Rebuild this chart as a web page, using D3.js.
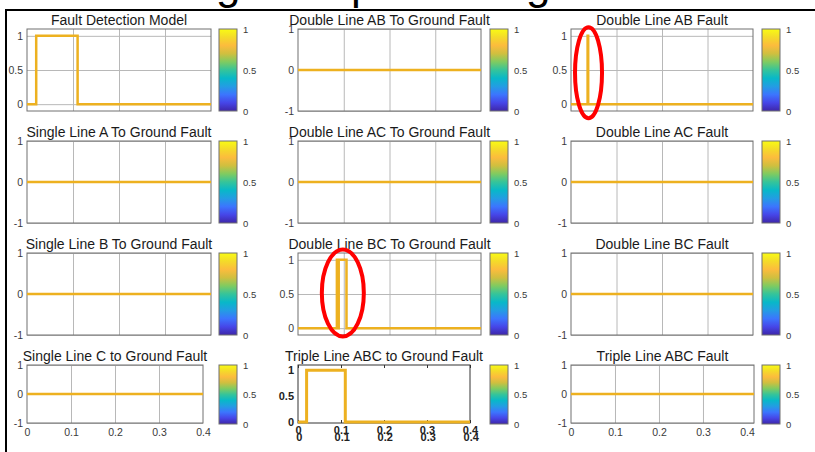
<!DOCTYPE html>
<html>
<head>
<meta charset="utf-8">
<script src="https://cdn.jsdelivr.net/npm/d3@7"></script>
<style>
  body { margin: 0; background: #fff; }
  svg { display: block; font-family: 'Liberation Sans', Arial, sans-serif; }
  .title { font-size: 14px; fill: #1a1a1a; text-anchor: middle; }
  .tick text { font-size: 10.5px; fill: #3a3a3a; }
  .grid line { stroke: #b8b8b8; }
  .bold .tick text { font-weight: bold; fill: #222; font-size: 11px; }
</style>
</head>
<body>
<svg width="815" height="452"></svg>
<script>
// panel titles, row by row
const titles = [
  'Fault Detection Model', 'Double Line AB To Ground Fault', 'Double Line AB Fault',
  'Single Line A To Ground Fault', 'Double Line AC To Ground Fault', 'Double Line AC Fault',
  'Single Line B To Ground Fault', 'Double Line BC To Ground Fault', 'Double Line BC Fault',
  'Single Line C to Ground Fault', 'Triple Line ABC to Ground Fault', 'Triple Line ABC Fault'
];

const xTicks = [0, 0.1, 0.2, 0.3, 0.4];
const xGrid = [0.1, 0.2, 0.3];
const barTicks = [0, 0.5, 1];

// step signals: breakpoints (s) and the value held after each one
const detectTime = [0, 0.02, 0.11, 0.4];
const detectValue = [0, 1, 0, 0];
const abFaultTime = [0, 0.0365, 0.0378, 0.4];
const abFaultValue = [0, 1, 0, 0];
const bcGroundTime = [0, 0.085, 0.087, 0.089, 0.106, 0.4];
const bcGroundValue = [0, 1, 0, 1, 0, 0];
const abcGroundTime = [0, 0.02, 0.11, 0.4];
const abcGroundValue = [0, 1, 0, 0];
const zeroTime = [0, 0.4];
const zeroValue = [0, 0];
const abcFaultTime = [0, 0.416];
const abcFaultValue = [0, 0];

const signalTime = [
  detectTime, zeroTime, abFaultTime,
  zeroTime, zeroTime, zeroTime,
  zeroTime, bcGroundTime, zeroTime,
  zeroTime, abcGroundTime, abcFaultTime
];
const signalValue = [
  detectValue, zeroValue, abFaultValue,
  zeroValue, zeroValue, zeroValue,
  zeroValue, bcGroundValue, zeroValue,
  zeroValue, abcGroundValue, abcFaultValue
];

const xMax = [0.4, 0.4, 0.4, 0.4, 0.4, 0.4, 0.4, 0.4, 0.4, 0.4, 0.4, 0.416];
const yDomains = [
  [-0.1, 1.1], [-1, 1], [-0.1, 1.1],
  [-1, 1], [-1, 1], [-1, 1],
  [-1, 1], [-0.1, 1.1], [-1, 1],
  [-1, 1], [-0.02, 1.1], [-1, 1]
];

// red marks drawn on the figure (panel, time, value)
const marks = [
  { panel: 2, t: 0.0385, v: 0.46 },
  { panel: 7, t: 0.098, v: 0.515 }
];
const markSize = [[13.5, 45.5], [21, 43.5]];

const parulaStops = ['#3e26a8', '#4646e8', '#3c75fe', '#239de3', '#08b8c8',
  '#35c49a', '#80cb60', '#d0bf3f', '#fcbc3d', '#f4db29', '#f9fb14'];

const svg = d3.select('svg');

// grid layout
const colLeft = [27, 298, 571];
const colWidth = [184, 183, 182];
const lastRowWidth = [176, 172, 183];
const rowTop = [29, 141, 253, 365];
const rowHeight = [82, 82, 82, 58];
const barLeft = [219, 490, 762];
const barWidth = 18;
const orange = '#edb120';
const fmt = d => String(d);

const grad = svg.append('defs').append('linearGradient')
  .attr('id', 'parula')
  .attr('x1', 0).attr('y1', 1).attr('x2', 0).attr('y2', 0);
grad.selectAll('stop')
  .data(parulaStops)
  .join('stop')
  .attr('offset', (d, i) => i / (parulaStops.length - 1))
  .attr('stop-color', d => d);

const scales = [];

titles.forEach((title, i) => {
  const col = i % 3;
  const row = Math.floor(i / 3);
  const left = colLeft[col];
  const top = rowTop[row];
  const w = row === 3 ? lastRowWidth[col] : colWidth[col];
  const h = rowHeight[row];
  const special = i === 10;
  const yTicks = yDomains[i][0] === -1 ? [-1, 0, 1] : [0, 0.5, 1];

  const xScale = d3.scaleLinear().domain([0, xMax[i]]).range([0, w]);
  const yScale = d3.scaleLinear().domain(yDomains[i]).range([h, 0]);
  scales.push({ xScale, yScale, left, top });

  const g = svg.append('g')
    .attr('transform', `translate(${left},${top})`);

  g.append('rect').attr('width', w).attr('height', h).attr('fill', '#fff');

  if (!special) {
    g.append('g')
      .attr('class', 'grid')
      .attr('transform', `translate(0,${h})`)
      .call(d3.axisBottom(xScale).tickValues(xGrid).tickSize(-h).tickFormat(''))
      .call(a => a.select('.domain').remove());
    g.append('g')
      .attr('class', 'grid')
      .call(d3.axisLeft(yScale).tickValues(yTicks).tickSize(-w).tickFormat(''))
      .call(a => a.select('.domain').remove());
  } else {
    // this one has only small inward ticks
    g.append('g')
      .attr('transform', `translate(0,${h})`)
      .call(d3.axisBottom(xScale).tickValues(xTicks).tickSize(-3).tickFormat(''))
      .call(a => a.select('.domain').remove())
      .selectAll('line').attr('stroke', '#333');
    g.append('g')
      .call(d3.axisTop(xScale).tickValues(xTicks).tickSize(-3).tickFormat(''))
      .call(a => a.select('.domain').remove())
      .selectAll('line').attr('stroke', '#333');
  }

  g.append('rect')
    .attr('width', w)
    .attr('height', h)
    .attr('fill', 'none')
    .attr('stroke', special ? '#333' : '#707070');

  const points = signalTime[i].map((t, k) => ({ t, v: signalValue[i][k] }));
  const lineGenerator = d3.line()
    .x(d => xScale(d.t))
    .y(d => yScale(d.v))
    .curve(d3.curveStepAfter);

  g.append('path')
    .attr('d', lineGenerator(points))
    .attr('fill', 'none')
    .attr('stroke', orange)
    .attr('stroke-width', special ? 3 : 2.5);

  // y labels
  g.append('g')
    .attr('class', special ? 'bold' : null)
    .call(d3.axisLeft(yScale).tickValues(yTicks).tickSize(0).tickPadding(4).tickFormat(fmt))
    .call(a => a.select('.domain').remove());

  // x labels on the bottom row only
  if (row === 3) {
    g.append('g')
      .attr('class', special ? 'bold' : null)
      .attr('transform', `translate(0,${h})`)
      .call(d3.axisBottom(xScale).tickValues(xTicks).tickSize(0).tickPadding(special ? 3 : 6).tickFormat(fmt))
      .call(a => a.select('.domain').remove());
    if (special) {
      g.append('g')
        .attr('class', 'bold')
        .attr('transform', `translate(0.7,${h})`)
        .call(d3.axisBottom(xScale).tickValues(xTicks).tickSize(0).tickPadding(10).tickFormat(fmt))
        .call(a => a.select('.domain').remove());
    }
  }

  g.append('text')
    .attr('class', 'title')
    .attr('x', w / 2)
    .attr('y', -4)
    .text(title);

  // colorbar
  const barHeight = row === 3 ? h + 1 : h;
  svg.append('rect')
    .attr('x', barLeft[col])
    .attr('y', top)
    .attr('width', barWidth)
    .attr('height', barHeight)
    .attr('fill', 'url(#parula)')
    .attr('stroke', '#707070');

  const cScale = d3.scaleLinear().domain([0, 1]).range([top + barHeight, top]);
  svg.append('g')
    .attr('transform', `translate(${barLeft[col] + barWidth},0)`)
    .call(d3.axisRight(cScale).tickValues(barTicks).tickSize(0).tickPadding(6).tickFormat(fmt))
    .call(a => a.select('.domain').remove())
    .selectAll('text').style('font-size', '9.5px');
});

// red ellipses
marks.forEach((m, k) => {
  const s = scales[m.panel];
  svg.append('ellipse')
    .attr('cx', s.left + s.xScale(m.t))
    .attr('cy', s.top + s.yScale(m.v))
    .attr('rx', markSize[k][0])
    .attr('ry', markSize[k][1])
    .attr('fill', 'none')
    .attr('stroke', '#ff0000')
    .attr('stroke-width', 4);
});

// cropped heading above the frame, only the descenders show
const heading = svg.append('text')
  .attr('y', -1)
  .style('font-size', '44px')
  .attr('fill', '#000');
[['g', 216], ['p', 351], ['g', 526]].forEach(([c, x]) => {
  heading.append('tspan').attr('x', x).text(c);
});

// black frame of the figure
svg.append('path')
  .attr('d', 'M5,10H815M6,10V452')
  .attr('fill', 'none')
  .attr('stroke', '#000')
  .attr('stroke-width', 2);
</script>
</body>
</html>
